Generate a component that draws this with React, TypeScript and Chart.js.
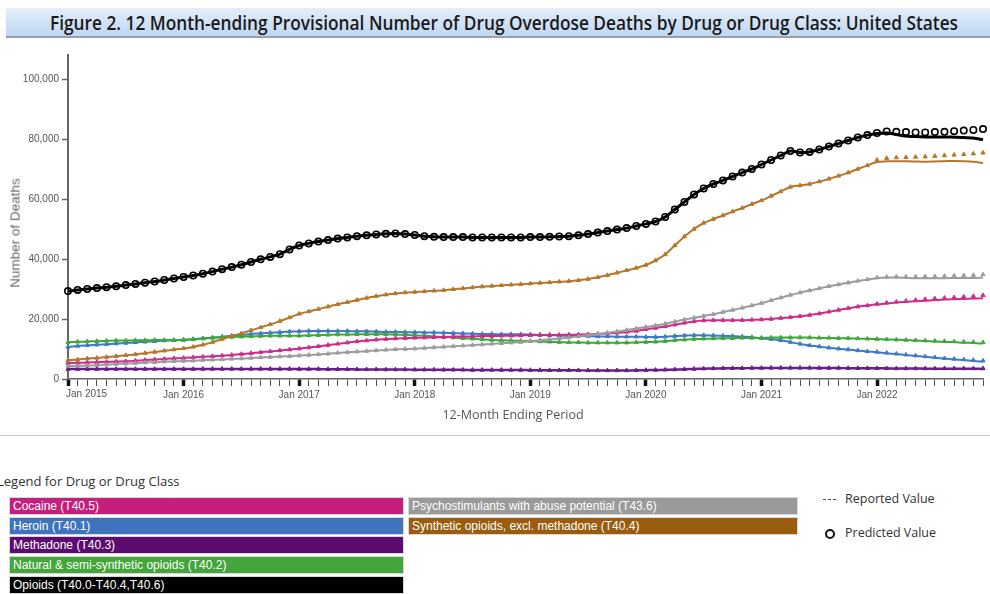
import React, { useEffect, useLayoutEffect, useRef } from 'react';
import { Chart, registerables } from 'chart.js';

Chart.register(...registerables);

const MONTHS = ['Jan', 'Feb', 'Mar', 'Apr', 'May', 'Jun', 'Jul', 'Aug', 'Sep', 'Oct', 'Nov', 'Dec'];
const YEARS = [2015, 2016, 2017, 2018, 2019, 2020, 2021, 2022];
const PERIODS = YEARS.flatMap((y) => MONTHS.map((m) => `${m} ${y}`));

const Y_TICKS = [0, 20000, 40000, 60000, 80000, 100000];
const Y_MAX = 108000;

// 12-month ending counts, Jan 2015 .. Dec 2022 (reported)
const opioidsReported = [
  29300, 29700, 30000, 30300, 30600, 30900, 31300, 31700, 32100, 32500, 33000, 33500,
  34000, 34500, 35100, 35800, 36600, 37300, 38100, 39000, 39900, 40700, 41600, 43200,
  44500, 45200, 45800, 46300, 46800, 47200, 47600, 47900, 48200, 48400, 48500, 48300,
  48000, 47600, 47400, 47300, 47300, 47300, 47200, 47200, 47200, 47200, 47200, 47200,
  47300, 47300, 47400, 47500, 47600, 47900, 48300, 48800, 49300, 49800, 50300, 51000,
  51700, 52500, 54000, 56500, 59000, 61500, 63500, 65000, 66200, 67500, 68800, 70000,
  71500, 73000, 74500, 76000, 75500, 75700, 76500, 77500, 78500, 79500, 80500, 81300,
  81800, 82000, 81500, 81000, 80800, 80700, 80700, 80700, 80600, 80500, 80300, 79800,
];
const opioidsPredicted2022 = [82000, 82500, 82400, 82300, 82200, 82200, 82300, 82400, 82600, 82800, 83000, 83300];

const syntheticReported = [
  6300, 6500, 6800, 7000, 7300, 7600, 7900, 8200, 8600, 9000, 9400, 9800,
  10200, 10700, 11400, 12300, 13300, 14300, 15200, 16200, 17200, 18200, 19300, 20500,
  21700, 22500, 23300, 24100, 24900, 25600, 26300, 27000, 27600, 28100, 28500, 28800,
  29000, 29200, 29400, 29600, 29900, 30200, 30500, 30800, 31000, 31200, 31400, 31600,
  31800, 32000, 32200, 32400, 32600, 32900, 33300, 33900, 34600, 35400, 36200, 37000,
  38000, 39500, 41500, 44500, 47500, 50000, 52000, 53300, 54500, 55800, 57000, 58300,
  59500, 61000, 62500, 64000, 64500, 65000, 65800, 66700, 67700, 68800, 70000, 71200,
  72300, 72600, 72600, 72600, 72500, 72400, 72500, 72600, 72700, 72600, 72400, 72000,
];
const syntheticPredicted2022 = [73000, 73600, 73800, 73900, 74000, 74100, 74300, 74500, 74700, 74900, 75100, 75400];

const psychostimReported = [
  4300, 4400, 4500, 4600, 4800, 5000, 5100, 5300, 5500, 5600, 5800, 5900,
  6000, 6100, 6300, 6400, 6500, 6700, 6800, 7000, 7200, 7300, 7500, 7600,
  7800, 8000, 8200, 8400, 8700, 8900, 9100, 9300, 9500, 9700, 9900, 10000,
  10100, 10300, 10500, 10700, 10900, 11100, 11300, 11500, 11700, 11900, 12100, 12300,
  12600, 12900, 13200, 13500, 13800, 14200, 14600, 15000, 15400, 15800, 16300, 16800,
  17300, 17800, 18400, 19100, 19800, 20400, 21000, 21600, 22300, 23000, 23700, 24500,
  25300, 26200, 27100, 28000, 28800, 29500, 30200, 30900, 31500, 32100, 32700, 33200,
  33600, 33800, 33800, 33700, 33600, 33600, 33600, 33600, 33700, 33700, 33700, 33800,
];
const psychostimPredicted2022 = [33800, 34000, 34100, 34100, 34100, 34200, 34200, 34300, 34400, 34500, 34600, 34800];

const cocaineReported = [
  5300, 5400, 5500, 5600, 5700, 5800, 5900, 6100, 6300, 6500, 6700, 6900,
  7000, 7200, 7400, 7600, 7800, 8000, 8300, 8600, 8900, 9200, 9500, 9800,
  10100, 10500, 10900, 11300, 11700, 12100, 12500, 12800, 13100, 13300, 13500, 13600,
  13700, 13800, 13900, 14000, 14100, 14200, 14200, 14300, 14300, 14400, 14400, 14500,
  14600, 14650, 14700, 14700, 14750, 14800, 14900, 15000, 15200, 15400, 15700, 16000,
  16600, 17000, 17500, 18100, 18700, 19200, 19500, 19600, 19600, 19600, 19600, 19700,
  19800, 20000, 20300, 20600, 20900, 21300, 21800, 22400, 23000, 23600, 24100, 24500,
  24900, 25200, 25500, 25700, 25900, 26100, 26300, 26500, 26600, 26700, 26800, 26900,
];
const cocainePredicted2022 = [25000, 25400, 25700, 26000, 26300, 26600, 26800, 27000, 27200, 27400, 27600, 27900];

const heroinReported = [
  10700, 11000, 11200, 11400, 11600, 11800, 12000, 12200, 12400, 12600, 12800, 12900,
  13000, 13200, 13500, 13800, 14100, 14400, 14700, 15000, 15200, 15400, 15600, 15800,
  15900, 16000, 16000, 16000, 16000, 16000, 15900, 15900, 15800, 15700, 15700, 15600,
  15600, 15500, 15500, 15400, 15300, 15200, 15100, 15000, 15000, 14900, 14900, 14900,
  14800, 14700, 14600, 14500, 14400, 14300, 14300, 14200, 14200, 14100, 14100, 14100,
  14000, 14000, 14100, 14300, 14500, 14600, 14600, 14500, 14400, 14300, 14100, 13900,
  13600, 13300, 12900, 12300, 11700, 11200, 10800, 10400, 10100, 9800, 9500, 9200,
  8900, 8600, 8300, 8000, 7700, 7400, 7100, 6800, 6500, 6300, 6000, 5800,
];
const heroinPredicted2022 = [9000, 8700, 8400, 8100, 7800, 7500, 7200, 6900, 6700, 6500, 6300, 6100];

const naturalReported = [
  12300, 12400, 12500, 12600, 12700, 12800, 12800, 12900, 12900, 13000, 13000, 13000,
  13100, 13300, 13500, 13700, 13900, 14000, 14100, 14200, 14300, 14400, 14400, 14400,
  14400, 14500, 14600, 14700, 14800, 14800, 14900, 14900, 14900, 14900, 14800, 14700,
  14600, 14400, 14200, 14000, 13800, 13600, 13400, 13200, 13000, 12900, 12800, 12700,
  12600, 12500, 12400, 12300, 12200, 12200, 12100, 12100, 12100, 12100, 12100, 12200,
  12300, 12400, 12600, 12900, 13100, 13300, 13400, 13500, 13600, 13600, 13700, 13700,
  13700, 13800, 13800, 13800, 13800, 13800, 13700, 13700, 13600, 13600, 13500, 13400,
  13300, 13200, 13100, 13000, 12800, 12700, 12500, 12400, 12300, 12100, 12000, 11800,
];
const naturalPredicted2022 = [13300, 13200, 13100, 13000, 12900, 12800, 12700, 12600, 12500, 12400, 12300, 12200];

const methadoneReported = [
  3300, 3300, 3300, 3300, 3300, 3300, 3300, 3300, 3300, 3300, 3300, 3300,
  3300, 3300, 3350, 3350, 3350, 3350, 3350, 3350, 3350, 3350, 3350, 3350,
  3300, 3300, 3300, 3250, 3250, 3250, 3200, 3200, 3200, 3150, 3150, 3150,
  3100, 3100, 3100, 3050, 3050, 3050, 3000, 3000, 3000, 3000, 3000, 3000,
  2950, 2950, 2900, 2900, 2900, 2900, 2850, 2850, 2850, 2850, 2850, 2900,
  2950, 3000, 3050, 3150, 3250, 3350, 3450, 3500, 3550, 3600, 3600, 3650,
  3650, 3700, 3700, 3700, 3700, 3700, 3650, 3650, 3650, 3600, 3600, 3600,
  3550, 3550, 3500, 3500, 3500, 3450, 3450, 3400, 3400, 3400, 3400, 3350,
];
const methadonePredicted2022 = [3550, 3550, 3500, 3500, 3500, 3500, 3500, 3500, 3500, 3500, 3500, 3500];

const LEGEND_LEFT = [
  { label: 'Cocaine (T40.5)', color: '#c51f7e' },
  { label: 'Heroin (T40.1)', color: '#3f74bd' },
  { label: 'Methadone (T40.3)', color: '#5c0b70' },
  { label: 'Natural & semi-synthetic opioids (T40.2)', color: '#43a53a' },
  { label: 'Opioids (T40.0-T40.4,T40.6)', color: '#000000' },
];
const LEGEND_RIGHT = [
  { label: 'Psychostimulants with abuse potential (T43.6)', color: '#9a9a9a' },
  { label: 'Synthetic opioids, excl. methadone (T40.4)', color: '#9a5c0f' },
];

const TITLE = 'Figure 2. 12 Month-ending Provisional Number of Drug Overdose Deaths by Drug or Drug Class: United States';

const withPred = (rep: number[], pred2022: number[]) => rep.slice(0, 84).concat(pred2022);

const SERIES = [
  { rep: opioidsReported, pred: withPred(opioidsReported, opioidsPredicted2022), color: '#000000', width: 3, style: 'circle', r: 3.2, open: true },
  { rep: syntheticReported, pred: withPred(syntheticReported, syntheticPredicted2022), color: '#b5772a', width: 2, style: 'triangle', r: 2.4, open: false },
  { rep: psychostimReported, pred: withPred(psychostimReported, psychostimPredicted2022), color: '#9c9c9c', width: 2, style: 'triangle', r: 2.4, open: false },
  { rep: cocaineReported, pred: withPred(cocaineReported, cocainePredicted2022), color: '#d02b8c', width: 2, style: 'triangle', r: 2.4, open: false },
  { rep: naturalReported, pred: withPred(naturalReported, naturalPredicted2022), color: '#3ea83a', width: 2, style: 'triangle', r: 2.4, open: false },
  { rep: heroinReported, pred: withPred(heroinReported, heroinPredicted2022), color: '#3d7bc8', width: 2, style: 'triangle', r: 2.4, open: false },
  { rep: methadoneReported, pred: withPred(methadoneReported, methadonePredicted2022), color: '#6a1f88', width: 2.5, style: 'triangle', r: 2.4, open: false },
];

const TICK_FONT = { family: '"Liberation Sans", Arial, sans-serif', size: 10 };

const firstLabelPlugin = {
  id: 'firstLabel',
  afterDraw(chart: any) {
    const xs = chart.scales.x;
    const ctx = chart.ctx;
    ctx.save();
    ctx.font = '10px "Liberation Sans", Arial, sans-serif';
    ctx.fillStyle = '#555';
    ctx.textAlign = 'left';
    ctx.textBaseline = 'top';
    ctx.fillText(PERIODS[0], xs.getPixelForValue(0) - 2, xs.top + 10);
    ctx.restore();
  },
};

export default function App() {
  const canvasRef = useRef<HTMLCanvasElement>(null);
  const titleRef = useRef<HTMLSpanElement>(null);

  useLayoutEffect(() => {
    const el = titleRef.current;
    if (el) {
      el.style.transform = 'none';
      const w = el.getBoundingClientRect().width;
      if (w > 0) el.style.transform = `scaleX(${908 / w})`;
    }
  }, []);

  useEffect(() => {
    if (!canvasRef.current) return;
    const datasets: any[] = [];
    SERIES.forEach((s) => {
      datasets.push({
        data: s.pred,
        showLine: false,
        pointStyle: s.style,
        pointRadius: s.r,
        pointBorderWidth: s.open ? 1.6 : 1,
        pointBorderColor: s.color,
        pointBackgroundColor: s.open ? 'rgba(255,255,255,0)' : s.color,
        clip: 10,
      });
      datasets.push({
        data: s.rep,
        borderColor: s.color,
        borderWidth: s.width,
        pointRadius: 0,
        tension: 0.25,
        clip: 10,
      });
    });

    const chart = new Chart(canvasRef.current, {
      type: 'line',
      data: { labels: PERIODS, datasets },
      options: {
        animation: false,
        responsive: false,
        maintainAspectRatio: false,
        layout: { padding: { left: 0, right: 7, top: 15, bottom: 0 } },
        plugins: { legend: { display: false }, tooltip: { enabled: false } },
        scales: {
          x: {
            type: 'category',
            offset: false,
            grid: {
              drawOnChartArea: false,
              drawTicks: true,
              tickLength: 7,
              tickWidth: (c: any) => (c.index % 12 === 0 ? 3.5 : 1),
              tickColor: (c: any) => (c.index % 12 === 0 ? '#111' : '#555'),
            },
            border: { color: '#666', width: 1.5 },
            ticks: {
              autoSkip: false,
              maxRotation: 0,
              minRotation: 0,
              padding: 3,
              color: '#555',
              font: TICK_FONT,
              callback: (_v: any, i: number) => (i % 12 === 0 && i > 0 ? PERIODS[i] : ''),
            },
            afterFit: (s: any) => {
              s.height = 56;
            },
          },
          y: {
            min: 0,
            max: Y_MAX,
            grid: { drawOnChartArea: false, tickLength: 6, tickColor: '#666', tickWidth: 1.5 },
            border: { color: '#666', width: 2 },
            ticks: {
              stepSize: 20000,
              padding: 3,
              color: '#555',
              font: TICK_FONT,
              callback: (v: any) => Number(v).toLocaleString('en-US'),
            },
            afterBuildTicks: (s: any) => {
              s.ticks = Y_TICKS.map((v) => ({ value: v }));
            },
            afterFit: (s: any) => {
              s.width = 68;
            },
          },
        },
      },
      plugins: [firstLabelPlugin],
    } as any);
    return () => chart.destroy();
  }, []);

  const box = (color: string, top: number, left: number, width: number, label: string) => (
    <div
      key={label}
      style={{
        position: 'absolute',
        left,
        top,
        width,
        height: 16,
        background: color,
        boxShadow: '0 0 0 1px #d8d8d8',
        color: '#fff',
        fontFamily: '"Liberation Sans", Arial, sans-serif',
        fontSize: 12,
        lineHeight: '16px',
        paddingLeft: 3,
        boxSizing: 'border-box',
        whiteSpace: 'nowrap',
        overflow: 'hidden',
      }}
    >
      {label}
    </div>
  );

  return (
    <div
      style={{
        position: 'absolute',
        left: 0,
        top: 0,
        width: 990,
        height: 594,
        background: '#fff',
        overflow: 'hidden',
        fontFamily: '"Open Sans", sans-serif',
      }}
    >
      <div
        style={{
          position: 'absolute',
          left: 6,
          top: 8,
          width: 984,
          height: 28,
          background: 'linear-gradient(#e4eefa, #bfd7f1)',
          borderBottom: '2px solid #9aa0a6',
        }}
      />
      <div
        style={{
          position: 'absolute',
          left: 50,
          top: 9,
          width: 940,
          height: 28,
          lineHeight: '28px',
          whiteSpace: 'nowrap',
        }}
      >
        <span
          ref={titleRef}
          style={{
            display: 'inline-block',
            transformOrigin: '0 50%',
            fontSize: 20,
            fontWeight: 600,
            color: '#1a1a1a',
            fontFamily: '"Open Sans", sans-serif',
          }}
        >
          {TITLE}
        </span>
      </div>

      <div style={{ position: 'absolute', left: 0, top: 40, width: 990, height: 395 }}>
        <canvas ref={canvasRef} width={990} height={395} style={{ width: 990, height: 395, display: 'block' }} />
      </div>

      <div
        style={{
          position: 'absolute',
          left: 15,
          top: 233,
          transform: 'translate(-50%, -50%) rotate(-90deg)',
          fontFamily: '"Liberation Sans", Arial, sans-serif',
          fontSize: 13.5,
          color: '#666',
          whiteSpace: 'nowrap',
        }}
      >
        Number of Deaths
      </div>
      <div
        style={{
          position: 'absolute',
          left: 513,
          top: 414,
          transform: 'translate(-50%, -50%)',
          fontSize: 12.5,
          color: '#555',
          whiteSpace: 'nowrap',
        }}
      >
        12-Month Ending Period
      </div>

      <div style={{ position: 'absolute', left: 0, top: 435, width: 990, height: 0, borderTop: '1px solid #c8c8c8' }} />

      <div
        style={{
          position: 'absolute',
          left: -3,
          top: 472,
          fontSize: 13,
          color: '#333',
          whiteSpace: 'nowrap',
        }}
      >
        Legend for Drug or Drug Class
      </div>

      {LEGEND_LEFT.map((it, i) => box(it.color, 498 + i * 19.7, 10, 393, it.label))}
      {LEGEND_RIGHT.map((it, i) => box(it.color, 498 + i * 19.7, 409, 388, it.label))}

      <div style={{ position: 'absolute', left: 823, top: 499, width: 13, height: 0, borderTop: '1px dashed #444' }} />
      <div style={{ position: 'absolute', left: 845, top: 490, fontSize: 12.5, color: '#333', whiteSpace: 'nowrap' }}>
        Reported Value
      </div>
      <div
        style={{
          position: 'absolute',
          left: 825,
          top: 529,
          width: 6,
          height: 6,
          borderRadius: '50%',
          border: '2px solid #111',
        }}
      />
      <div style={{ position: 'absolute', left: 845, top: 524, fontSize: 12.5, color: '#333', whiteSpace: 'nowrap' }}>
        Predicted Value
      </div>
    </div>
  );
}
